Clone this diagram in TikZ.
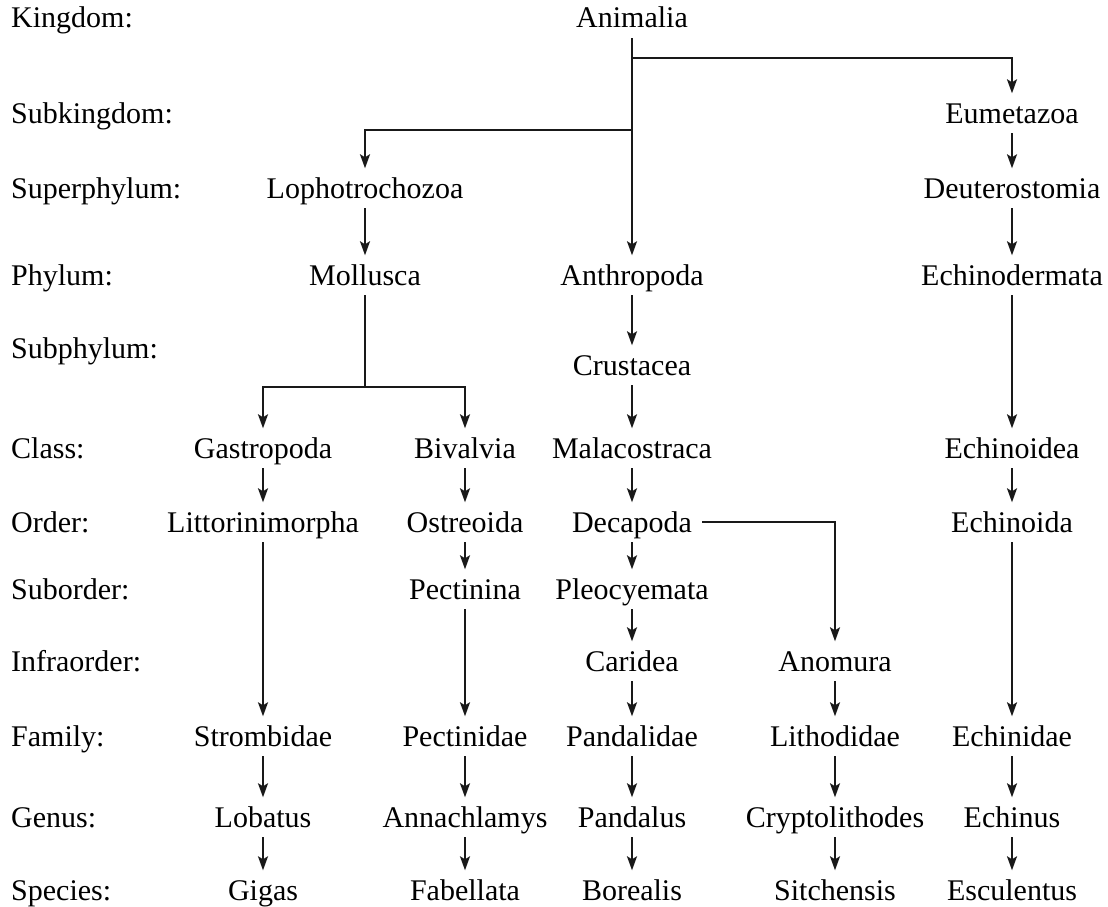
\documentclass[tikz,border=0pt]{standalone}
\usepackage{fontspec}
\setmainfont{Liberation Serif}
\usetikzlibrary{arrows.meta}
\begin{document}
\begin{tikzpicture}[x=1pt,y=-1pt,
  tx/.style={anchor=base, text height=19.5pt, text depth=0pt, inner xsep=10pt, inner ysep=10pt, font=\fontsize{30}{35}\selectfont},
  lab/.style={tx, anchor=base west, inner xsep=0pt},
  ln/.style={line width=2pt, black!90},
  arr/.style={ln, -{Stealth[length=14pt,width=10pt,inset=3pt]}}]
\useasboundingbox (0,0) rectangle (1108,907);
% rank labels
\node[lab] (lK) at (11,28) {Kingdom:};
\node[lab] (lSK) at (11,123) {Subkingdom:};
\node[lab] (lSP) at (11,198) {Superphylum:};
\node[lab] (lP) at (11,285) {Phylum:};
\node[lab] (lSPh) at (11,358) {Subphylum:};
\node[lab] (lC) at (11,458) {Class:};
\node[lab] (lO) at (11,532) {Order:};
\node[lab] (lSO) at (11,599) {Suborder:};
\node[lab] (lIO) at (11,671) {Infraorder:};
\node[lab] (lF) at (11,746) {Family:};
\node[lab] (lG) at (11,827) {Genus:};
\node[lab] (lS) at (11,900) {Species:};
% taxa
\node[tx] (anim) at (632,28) {Animalia};
\node[tx] (eume) at (1012,123) {Eumetazoa};
\node[tx] (loph) at (365,198) {Lophotrochozoa};
\node[tx] (deut) at (1012,198) {Deuterostomia};
\node[tx] (moll) at (365,285) {Mollusca};
\node[tx] (anth) at (632,285) {Anthropoda};
\node[tx] (echd) at (1012,285) {Echinodermata};
\node[tx] (crus) at (632,375) {Crustacea};
\node[tx] (gast) at (263,458) {Gastropoda};
\node[tx] (biva) at (465,458) {Bivalvia};
\node[tx] (mala) at (632,458) {Malacostraca};
\node[tx] (echi) at (1012,458) {Echinoidea};
\node[tx] (litt) at (263,532) {Littorinimorpha};
\node[tx] (ostr) at (465,532) {Ostreoida};
\node[tx] (deca) at (632,532) {Decapoda};
\node[tx] (echo) at (1012,532) {Echinoida};
\node[tx] (pecn) at (465,599) {Pectinina};
\node[tx] (pleo) at (632,599) {Pleocyemata};
\node[tx] (cari) at (632,671) {Caridea};
\node[tx] (anom) at (835,671) {Anomura};
\node[tx] (stro) at (263,746) {Strombidae};
\node[tx] (pecd) at (465,746) {Pectinidae};
\node[tx] (pand) at (632,746) {Pandalidae};
\node[tx] (lith) at (835,746) {Lithodidae};
\node[tx] (echn) at (1012,746) {Echinidae};
\node[tx] (loba) at (263,827) {Lobatus};
\node[tx] (anna) at (465,827) {Annachlamys};
\node[tx] (pans) at (632,827) {Pandalus};
\node[tx] (cryp) at (835,827) {Cryptolithodes};
\node[tx] (echs) at (1012,827) {Echinus};
\node[tx] (giga) at (263,900) {Gigas};
\node[tx] (fabe) at (465,900) {Fabellata};
\node[tx] (bore) at (632,900) {Borealis};
\node[tx] (sitc) at (835,900) {Sitchensis};
\node[tx] (escu) at (1012,900) {Esculentus};
% branch points
\coordinate (b1) at (632,58);
\coordinate (b2) at (632,130);
\coordinate (b3) at (365,387);
% connectors
\draw[arr] (anim.south) -- (anth.north);
\draw[arr] (b1) -| (eume.north);
\draw[arr] (b2) -| (loph.north);
\draw[arr] (eume) -- (deut);
\draw[arr] (deut) -- (echd);
\draw[arr] (echd) -- (echi);
\draw[arr] (echi) -- (echo);
\draw[arr] (echo) -- (echn);
\draw[arr] (echn) -- (echs);
\draw[arr] (echs) -- (escu);
\draw[arr] (loph) -- (moll);
\draw[ln] (moll.south) -- (b3);
\draw[arr] (b3) -| (gast.north);
\draw[arr] (b3) -| (biva.north);
\draw[arr] (gast) -- (litt);
\draw[arr] (litt) -- (stro);
\draw[arr] (stro) -- (loba);
\draw[arr] (loba) -- (giga);
\draw[arr] (biva) -- (ostr);
\draw[arr] (ostr) -- (pecn);
\draw[arr] (pecn) -- (pecd);
\draw[arr] (pecd) -- (anna);
\draw[arr] (anna) -- (fabe);
\draw[arr] (anth) -- (crus);
\draw[arr] (crus) -- (mala);
\draw[arr] (mala) -- (deca);
\draw[arr] (deca) -- (pleo);
\draw[arr] (pleo) -- (cari);
\draw[arr] (cari) -- (pand);
\draw[arr] (pand) -- (pans);
\draw[arr] (pans) -- (bore);
\draw[arr] (deca.east) -| (anom.north);
\draw[arr] (anom) -- (lith);
\draw[arr] (lith) -- (cryp);
\draw[arr] (cryp) -- (sitc);
\end{tikzpicture}
\end{document}
